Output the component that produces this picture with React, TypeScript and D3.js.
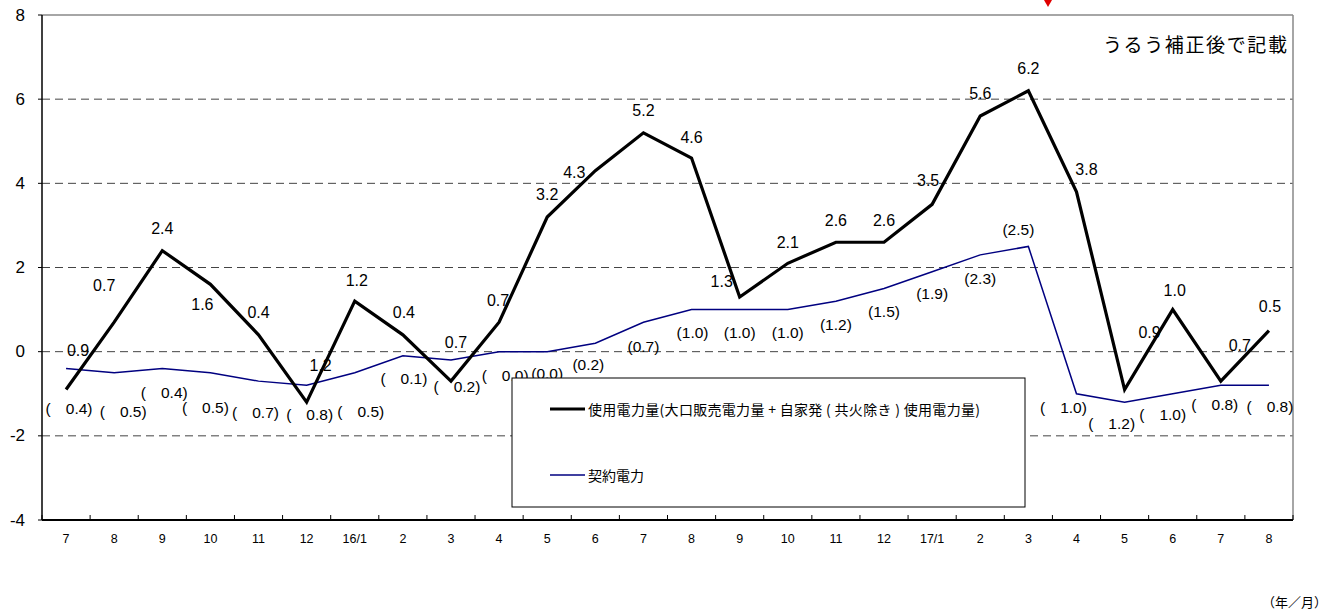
import React from "react";
import * as d3 from "d3";

const categories = ["7","8","9","10","11","12","16/1","2","3","4","5","6","7","8","9","10","11","12","17/1","2","3","4","5","6","7","8"];
const usedPower = [-0.9,0.7,2.4,1.6,0.4,-1.2,1.2,0.4,-0.7,0.7,3.2,4.3,5.2,4.6,1.3,2.1,2.6,2.6,3.5,5.6,6.2,3.8,-0.9,1.0,-0.7,0.5];
const contractPower = [-0.4,-0.5,-0.4,-0.5,-0.7,-0.8,-0.5,-0.1,-0.2,-0.0,0.0,0.2,0.7,1.0,1.0,1.0,1.2,1.5,1.9,2.3,2.5,-1.0,-1.2,-1.0,-0.8,-0.8];
const yTicks = [-4,-2,0,2,4,6,8];
const seriesNames = ["使用電力量(大口販売電力量 + 自家発 ( 共火除き ) 使用電力量)", "契約電力"];
const noteText = "うるう補正後で記載";
const unitText = "（年／月）";

// label nudges (dx, dy) from each point, as in the original hand-placed labels
const usedLabelNudge = [[12,-39],[-10,-37],[0,-22],[-8,20],[0,-22],[14,-37],[2,-21],[1,-22],[5,-39],[-1,-22],[0,-23],[-21,2],[0,-22],[0,-21],[-18,-15],[0,-21],[0,-22],[0,-22],[-4,-24],[0,-23],[0,-22],[10,-22],[25,-57],[2,-19],[19,-36],[1,-24]];
const contractLabelNudge = [[3,39],[9,38],[2,23],[-5,34],[-3,31],[3,29],[6,38],[1,22],[6,26],[6,23],[0,22],[-7,21],[0,24],[1,23],[0,23],[0,23],[0,23],[0,23],[0,22],[0,24],[-10,-17],[-13,13],[-13,21],[-10,20],[-6,19],[1,21]];

const W = 1337, H = 612;
const L = 42, R = 1293, T = 15, B = 520;
const FONT = "'Liberation Sans', Arial, 'Noto Sans CJK JP', sans-serif";
const JFONT = "'Noto Sans CJK JP', 'Liberation Sans', sans-serif";

const isNeg = (v: number) => v < 0 || Object.is(v, -0);

export default function App() {
  const x = d3.scaleBand<number>().domain(d3.range(categories.length)).range([L, R]).padding(0);
  const y = d3.scaleLinear().domain([-4, 8]).range([B, T]);
  const cx = (i: number) => (x(i) as number) + x.bandwidth() / 2;
  const line = d3.line<number>().x((_, i) => cx(i)).y((d) => y(d));

  const legendX = 512, legendY = 378, legendW = 513, legendH = 129;

  return (
    <svg width={W} height={H} style={{ position: "absolute", left: 0, top: 0, background: "#fff" }} fontFamily={FONT}>
      {/* gridlines */}
      {yTicks.filter((t) => t > -4 && t < 8).map((t) => (
        <line key={t} x1={L} x2={R} y1={y(t)} y2={y(t)} stroke="#444" strokeWidth={1} strokeDasharray="8,5" />
      ))}
      {/* top and right border */}
      <line x1={L} x2={R} y1={T} y2={T} stroke="#888" strokeWidth={1.5} />
      <line x1={R} x2={R} y1={T} y2={B} stroke="#888" strokeWidth={1.5} />
      {/* left axis */}
      <line x1={L} x2={L} y1={T} y2={B} stroke="#000" strokeWidth={1.5} />
      {yTicks.map((t) => (
        <g key={t}>
          <line x1={L - 4} x2={L} y1={y(t)} y2={y(t)} stroke="#000" strokeWidth={1} />
          <text x={25} y={y(t)} textAnchor="end" dominantBaseline="central" fontSize={17}>{t}</text>
        </g>
      ))}
      {/* bottom axis */}
      <line x1={L} x2={R} y1={B} y2={B} stroke="#000" strokeWidth={2} />
      {d3.range(categories.length + 1).map((i) => (
        <line key={i} x1={L + i * x.bandwidth()} x2={L + i * x.bandwidth()} y1={B} y2={B - 5} stroke="#000" strokeWidth={1} />
      ))}
      {categories.map((c, i) => (
        <text key={i} x={cx(i)} y={539} textAnchor="middle" dominantBaseline="central" fontSize={12.5}>{c.replace("/", " / ").replace(" / ", "/")}</text>
      ))}
      {/* series */}
      <path d={line(contractPower) || ""} fill="none" stroke="#000080" strokeWidth={1.5} />
      <path d={line(usedPower) || ""} fill="none" stroke="#000" strokeWidth={3.2} strokeLinejoin="miter" />
      {/* labels used */}
      {usedPower.map((v, i) => (
        <text key={i} x={cx(i) + usedLabelNudge[i][0]} y={y(v) + usedLabelNudge[i][1]} textAnchor="middle" dominantBaseline="central" fontSize={16}>
          {Math.abs(v).toFixed(1)}
        </text>
      ))}
      {/* labels contract */}
      {contractPower.map((v, i) => (
        <text key={i} x={cx(i) + contractLabelNudge[i][0]} y={y(v) + contractLabelNudge[i][1]} textAnchor="middle" dominantBaseline="central" fontSize={15.5}>
          {isNeg(v) ? (
            <>
              <tspan>(</tspan>
              <tspan dx={15}>{Math.abs(v).toFixed(1)})</tspan>
            </>
          ) : (
            `(${v.toFixed(1)})`
          )}
        </text>
      ))}
      {/* legend */}
      <rect x={legendX} y={legendY} width={legendW} height={legendH} fill="#fff" stroke="#000" strokeWidth={1} />
      <line x1={550} x2={585} y1={409} y2={409} stroke="#000" strokeWidth={3.2} />
      <text x={588} y={409} dominantBaseline="central" fontSize={14} fontFamily={JFONT} textLength={392} lengthAdjust="spacing">{seriesNames[0]}</text>
      <line x1={550} x2={585} y1={475} y2={475} stroke="#000080" strokeWidth={1.5} />
      <text x={588} y={475} dominantBaseline="central" fontSize={14} fontFamily={JFONT}>{seriesNames[1]}</text>
      {/* note */}
      <text x={1103} y={43} dominantBaseline="central" fontSize={19} fontFamily={JFONT} textLength={184} lengthAdjust="spacing">{noteText}</text>
      <text x={1262} y={601} dominantBaseline="central" fontSize={13} fontFamily={JFONT}>{unitText}</text>
      {/* red arrow tip */}
      <polygon points="1044,0 1052,0 1048,7" fill="#e00000" />
    </svg>
  );
}
